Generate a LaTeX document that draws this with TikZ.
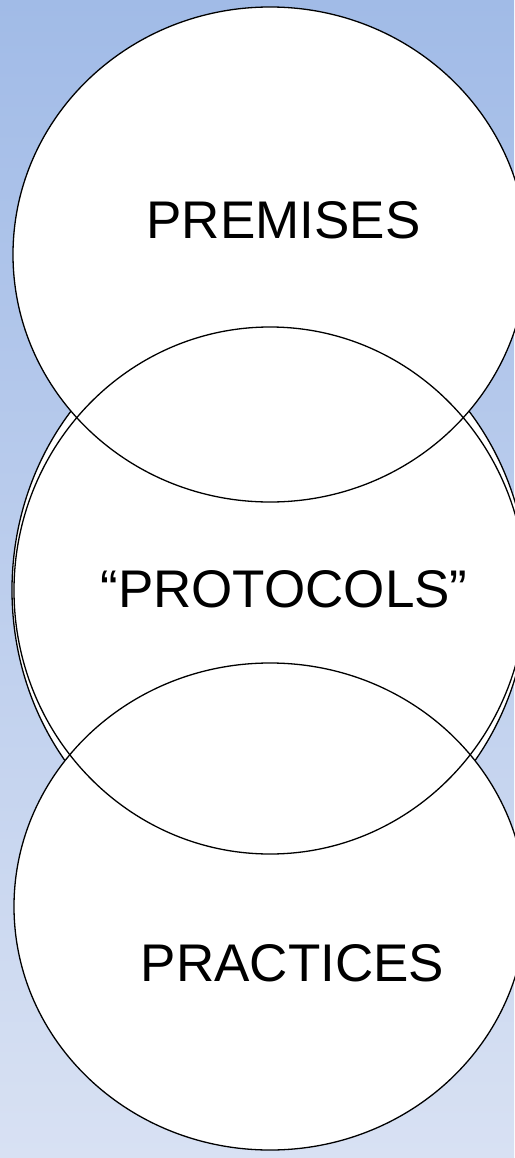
\documentclass[tikz,border=0pt]{standalone}
\usepackage{fontspec}
\setmainfont{Liberation Sans}
\definecolor{bgtop}{RGB}{161,187,231}
\definecolor{bgbot}{RGB}{216,225,243}
\begin{document}
\begin{tikzpicture}[x=1pt,y=-1pt,
  ring/.style={draw=black,line width=1.3pt},
  ringfill/.style={ring,fill=white},
  label/.style={font=\fontsize{53}{60}\selectfont,anchor=base,inner sep=0pt}]
\useasboundingbox (0,0) rectangle (514,1158);
\shade[top color=bgtop,bottom color=bgbot] (0,0) rectangle (514,1158);
% extra ellipse behind
\path[ringfill] (270,590) ellipse [x radius=258, y radius=281];
% top and bottom circles
\path[ringfill] (270,254.5) ellipse [x radius=257, y radius=247.5];
\path[ringfill] (270,906.5) ellipse [x radius=256, y radius=243.5];
% middle ellipse, outline only
\path[ring] (270,590.5) ellipse [x radius=256, y radius=263.5];
\node[label] (premises) at (283.5,239) {PREMISES};
\node[label] (protocols) at (284,607) {“PROTOCOLS”};
\node[label] (practices) at (292.5,981) {PRACTICES};
\end{tikzpicture}
\end{document}
